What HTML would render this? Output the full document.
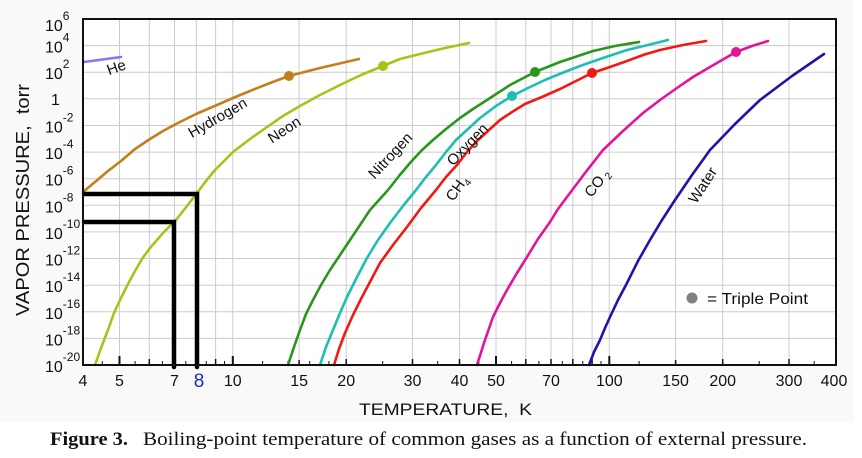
<!DOCTYPE html>
<html><head><meta charset="utf-8"><style>
html,body{margin:0;padding:0;background:#fff;}
svg{display:block;}
text{font-family:"Liberation Sans",sans-serif;fill:#111;}
</style></head><body>
<svg width="862" height="458" viewBox="0 0 862 458" xmlns="http://www.w3.org/2000/svg">
<rect x="0" y="0" width="862" height="458" fill="#fff"/>
<rect x="0" y="0" width="853" height="422" fill="#f9f9f9"/>
<rect x="83" y="19" width="753" height="346" fill="#fff"/>
<!-- grid -->
<g stroke="#cccccc" stroke-width="1">
<line x1="83" x2="836" y1="45.6" y2="45.6"/><line x1="83" x2="836" y1="72.2" y2="72.2"/>
<line x1="83" x2="836" y1="98.8" y2="98.8"/><line x1="83" x2="836" y1="125.5" y2="125.5"/>
<line x1="83" x2="836" y1="152.1" y2="152.1"/><line x1="83" x2="836" y1="178.7" y2="178.7"/>
<line x1="83" x2="836" y1="205.3" y2="205.3"/><line x1="83" x2="836" y1="231.9" y2="231.9"/>
<line x1="83" x2="836" y1="258.5" y2="258.5"/><line x1="83" x2="836" y1="285.2" y2="285.2"/>
<line x1="83" x2="836" y1="311.8" y2="311.8"/><line x1="83" x2="836" y1="338.4" y2="338.4"/>
<line y1="19" y2="365" x1="119.5" x2="119.5"/><line y1="19" y2="365" x1="149.3" x2="149.3"/>
<line y1="19" y2="365" x1="174.5" x2="174.5"/><line y1="19" y2="365" x1="196.3" x2="196.3"/>
<line y1="19" y2="365" x1="215.6" x2="215.6"/><line y1="19" y2="365" x1="232.8" x2="232.8"/>
<line y1="19" y2="365" x1="299.1" x2="299.1"/><line y1="19" y2="365" x1="346.2" x2="346.2"/>
<line y1="19" y2="365" x1="412.5" x2="412.5"/><line y1="19" y2="365" x1="459.5" x2="459.5"/>
<line y1="19" y2="365" x1="496" x2="496"/><line y1="19" y2="365" x1="525.8" x2="525.8"/>
<line y1="19" y2="365" x1="551" x2="551"/><line y1="19" y2="365" x1="572.8" x2="572.8"/>
<line y1="19" y2="365" x1="592.1" x2="592.1"/><line y1="19" y2="365" x1="609.3" x2="609.3"/>
<line y1="19" y2="365" x1="675.6" x2="675.6"/><line y1="19" y2="365" x1="722.7" x2="722.7"/>
<line y1="19" y2="365" x1="789" x2="789"/>
</g>
<!-- ticks -->
<g stroke="#111" stroke-width="2">
<line x1="119.5" x2="119.5" y1="365" y2="356"/><line x1="232.8" x2="232.8" y1="365" y2="356"/>
<line x1="496" x2="496" y1="365" y2="356"/><line x1="609.3" x2="609.3" y1="365" y2="356"/>
</g>
<g stroke="#111" stroke-width="1.5">
<line x1="149.3" x2="149.3" y1="365" y2="359"/><line x1="215.6" x2="215.6" y1="365" y2="359"/>
<line x1="346.2" x2="346.2" y1="365" y2="359"/><line x1="412.5" x2="412.5" y1="365" y2="359"/>
<line x1="459.5" x2="459.5" y1="365" y2="359"/><line x1="525.8" x2="525.8" y1="365" y2="359"/>
<line x1="551" x2="551" y1="365" y2="359"/><line x1="572.8" x2="572.8" y1="365" y2="359"/>
<line x1="592.1" x2="592.1" y1="365" y2="359"/><line x1="722.7" x2="722.7" y1="365" y2="359"/>
<line x1="789" x2="789" y1="365" y2="359"/><line x1="299.1" x2="299.1" y1="365" y2="360"/>
<line x1="675.6" x2="675.6" y1="365" y2="360"/>
</g>
<g stroke="#111" stroke-width="1">
<line x1="102.3" x2="102.3" y1="365" y2="361"/><line x1="135.1" x2="135.1" y1="365" y2="361"/>
<line x1="162.4" x2="162.4" y1="365" y2="361"/><line x1="185.8" x2="185.8" y1="365" y2="361"/>
<line x1="206.3" x2="206.3" y1="365" y2="361"/><line x1="224.5" x2="224.5" y1="365" y2="361"/>
<line x1="262.6" x2="262.6" y1="365" y2="361"/><line x1="287.9" x2="287.9" y1="365" y2="361"/>
<line x1="309.7" x2="309.7" y1="365" y2="361"/><line x1="328.9" x2="328.9" y1="365" y2="361"/>
<line x1="382.7" x2="382.7" y1="365" y2="361"/><line x1="437.7" x2="437.7" y1="365" y2="361"/>
<line x1="478.8" x2="478.8" y1="365" y2="361"/><line x1="511.6" x2="511.6" y1="365" y2="361"/>
<line x1="538.9" x2="538.9" y1="365" y2="361"/><line x1="562.3" x2="562.3" y1="365" y2="361"/>
<line x1="582.8" x2="582.8" y1="365" y2="361"/><line x1="601" x2="601" y1="365" y2="361"/>
<line x1="639.1" x2="639.1" y1="365" y2="361"/><line x1="759.2" x2="759.2" y1="365" y2="361"/>
<line x1="814.2" x2="814.2" y1="365" y2="361"/>
</g>
<!-- curves -->
<g fill="none" stroke-width="2.6" stroke-linejoin="round" stroke-linecap="round">
<polyline stroke="#7b7bf5" points="84,62 121,57"/>
<polyline stroke="#c47e1c" points="83,192 95,182 108,171 121,161 135,149 150,139 163,131 176,124 196,114 217,105 233,98 250,91 270,83 289,76 320,68 359,59"/>
<polyline stroke="#a3c51a" points="95,365 101,348 108,330 114,313 121,298 128,284 135,271 142,259 150,248 163,233 176,220 187,206 197,193 206,181 215,170 224,161 233,152 250,139 267,127 283,116 300,106 320,95 340,85 361,75 383,66 400,59 420,54 445,48 469,43"/>
<polyline stroke="#2a961c" points="288,365 294,347 300,330 306,314 313,300 321,285 330,270 340,255 350,240 360,225 370,210 379,200 388,190 399,176 410,163 421,151 433,140 446,129 460,118 473,109 487,100 510,85 535,72 560,62 593,51 615,46 639,42"/>
<polyline stroke="#1cbfb0" points="320,365 326,347 333,330 340,313 347,297 357,277 367,258 378,240 390,223 403,206 416,190 426,177 436,165 446,152 456,140 468,129 480,118 496,106 512,96 528,88 545,80 562,73 580,66 603,58 627,50 648,45 668,40"/>
<polyline stroke="#f01a12" points="334,365 339,349 345,333 353,315 362,297 371,280 380,263 393,245 407,227 421,208 436,190 446,177 457,165 467,152 478,140 489,130 500,120 512,112 525,104 542,97 560,89 576,81 592,73 610,67 627,61 643,55 660,50 683,45 706,41"/>
<polyline stroke="#e0159a" points="477,365 485,340 493,317 500,303 507,290 517,273 527,257 538,239 550,222 558,209 567,197 585,173 603,150 623,131 643,113 660,100 677,88 693,77 710,67 736,52 752,46 768,41"/>
<polyline stroke="#1f14a8" points="589,365 594,352 600,340 605,328 610,317 618,300 627,283 638,261 650,240 662,220 675,200 692,175 710,150 735,124 760,100 792,76 824,54"/>
</g>
<!-- triple points -->
<circle cx="289" cy="76" r="5" fill="#c47e1c"/>
<circle cx="383" cy="66" r="5" fill="#a3c51a"/>
<circle cx="535" cy="72" r="5" fill="#2a961c"/>
<circle cx="512" cy="96" r="5" fill="#1cbfb0"/>
<circle cx="592" cy="73" r="5" fill="#f01a12"/>
<circle cx="736" cy="52" r="5" fill="#e0159a"/>
<!-- black annotation lines -->
<g stroke="#000" stroke-width="4.5" stroke-linecap="round" fill="none">
<polyline points="84,194 197,194 197,367"/>
<polyline points="84,222 174,222 174,367"/>
</g>
<!-- border -->
<rect x="83" y="19" width="753" height="346" fill="none" stroke="#111" stroke-width="2"/>
<!-- curve labels -->
<g font-size="15">
<text transform="translate(118,72) rotate(-20)" text-anchor="middle">He</text>
<text transform="translate(220,122) rotate(-30)" text-anchor="middle">Hydrogen</text>
<text transform="translate(287,134) rotate(-33)" text-anchor="middle">Neon</text>
<text transform="translate(394,159) rotate(-47)" text-anchor="middle">Nitrogen</text>
<text transform="translate(471,148) rotate(-46)" text-anchor="middle">Oxygen</text>
<text transform="translate(461,191) rotate(-55)" text-anchor="middle">CH<tspan font-size="10" dy="4">4</tspan></text>
<text transform="translate(601,186) rotate(-52)" text-anchor="middle">CO<tspan font-size="10" dy="3"> 2</tspan></text>
<text transform="translate(707,188) rotate(-57)" text-anchor="middle">Water</text>
</g>
<!-- legend -->
<circle cx="692" cy="298" r="5.5" fill="#808080"/>
<text x="707" y="304" font-size="16" textLength="101" lengthAdjust="spacingAndGlyphs">= Triple Point</text>
<!-- y tick labels -->
<g font-size="16">
<text x="45" y="31">10<tspan font-size="12" dy="-11">6</tspan></text>
<text x="45" y="52.6">10<tspan font-size="12" dy="-11">4</tspan></text>
<text x="45" y="79.2">10<tspan font-size="12" dy="-11">2</tspan></text>
<text x="51" y="104.8">1</text>
<text x="45" y="132.5">10<tspan font-size="12" dy="-11">-2</tspan></text>
<text x="45" y="159.1">10<tspan font-size="12" dy="-11">-4</tspan></text>
<text x="45" y="185.7">10<tspan font-size="12" dy="-11">-6</tspan></text>
<text x="45" y="212.3">10<tspan font-size="12" dy="-11">-8</tspan></text>
<text x="45" y="238.9">10<tspan font-size="12" dy="-11">-10</tspan></text>
<text x="45" y="265.5">10<tspan font-size="12" dy="-11">-12</tspan></text>
<text x="45" y="292.2">10<tspan font-size="12" dy="-11">-14</tspan></text>
<text x="45" y="318.8">10<tspan font-size="12" dy="-11">-16</tspan></text>
<text x="45" y="345.4">10<tspan font-size="12" dy="-11">-18</tspan></text>
<text x="45" y="372">10<tspan font-size="12" dy="-11">-20</tspan></text>
</g>
<!-- x tick labels -->
<g font-size="16" text-anchor="middle">
<text x="83" y="386">4</text>
<text x="119.5" y="386">5</text>
<text x="174.5" y="386">7</text>
<text x="232.8" y="386">10</text>
<text x="299.1" y="386">15</text>
<text x="346.2" y="386">20</text>
<text x="412.5" y="386">30</text>
<text x="459.5" y="386">40</text>
<text x="496" y="386">50</text>
<text x="551" y="386">70</text>
<text x="609.3" y="386">100</text>
<text x="675.6" y="386">150</text>
<text x="722.7" y="386">200</text>
<text x="789" y="386">300</text>
<text x="834" y="386">400</text>
</g>
<text x="199" y="387" font-size="19" text-anchor="middle" style="fill:#1a2fb8">8</text>
<!-- axis titles -->
<text x="359" y="415" font-size="17" textLength="173" lengthAdjust="spacingAndGlyphs">TEMPERATURE,&#160; K</text>
<text transform="translate(29,316) rotate(-90)" font-size="18" textLength="232" lengthAdjust="spacingAndGlyphs">VAPOR PRESSURE,&#160; torr</text>
<!-- caption -->
<text x="50" y="445" font-size="19" font-weight="bold" style="font-family:'Liberation Serif',serif" textLength="78" lengthAdjust="spacingAndGlyphs">Figure 3.</text>
<text x="143" y="445" font-size="19" style="font-family:'Liberation Serif',serif" textLength="664" lengthAdjust="spacingAndGlyphs">Boiling-point temperature of common gases as a function of external pressure.</text>
</svg>
</body></html>
